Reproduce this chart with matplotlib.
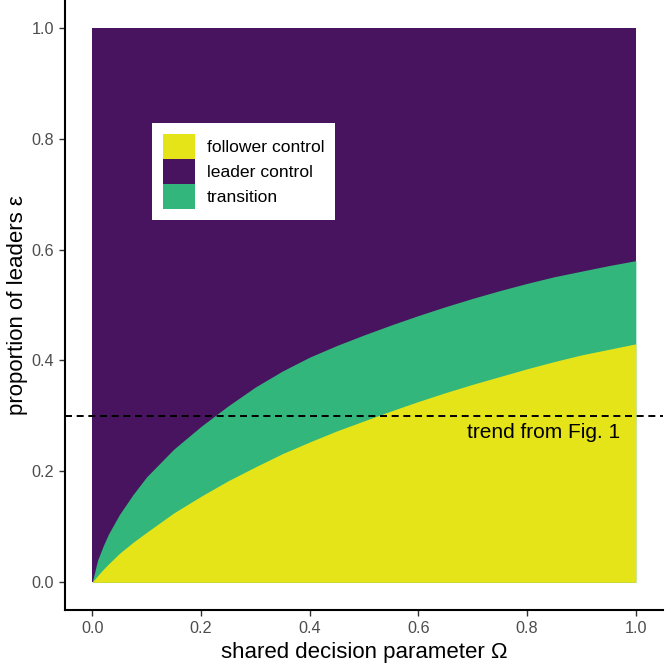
import matplotlib
matplotlib.use("Agg")
import matplotlib.pyplot as plt
import matplotlib.patches as mpatches

plt.rcParams['font.family'] = ['Liberation Sans', 'DejaVu Sans']

# boundary curves
omega = [0.0, 0.01, 0.02, 0.03, 0.05, 0.075, 0.1, 0.15, 0.2, 0.25, 0.3, 0.35, 0.4, 0.45,
         0.5, 0.55, 0.6, 0.65, 0.7, 0.75, 0.8, 0.85, 0.9, 0.95, 1.0]
upper_eps = [0.0, 0.04, 0.065, 0.087, 0.122, 0.158, 0.19, 0.24, 0.281, 0.318, 0.352, 0.381,
             0.406, 0.427, 0.446, 0.464, 0.481, 0.497, 0.512, 0.526, 0.539, 0.551, 0.561,
             0.571, 0.58]
lower_eps = [0.0, 0.012, 0.023, 0.033, 0.052, 0.072, 0.09, 0.125, 0.155, 0.183, 0.208, 0.232,
             0.253, 0.273, 0.291, 0.309, 0.326, 0.342, 0.357, 0.371, 0.385, 0.398, 0.41,
             0.42, 0.43]
trend_eps = 0.3
x_ticks = [0.0, 0.2, 0.4, 0.6, 0.8, 1.0]
y_ticks = [0.0, 0.2, 0.4, 0.6, 0.8, 1.0]
labels = ["follower control", "leader control", "transition"]

c_yellow = "#E5E419"
c_purple = "#48135F"
c_green = "#33B67C"

fig = plt.figure(figsize=(6.66, 6.65), dpi=100)
ax = fig.add_axes([65/666, 55/665, 598/666, 610/665])

ax.fill_between([0.0, 1.0], [0.0, 0.0], [1.0, 1.0], color=c_purple, linewidth=0)
ax.fill_between(omega, [0]*len(omega), upper_eps, color=c_green, linewidth=0)
ax.fill_between(omega, [0]*len(omega), lower_eps, color=c_yellow, linewidth=0)

ax.axhline(trend_eps, color="black", linewidth=1.4, dashes=(3.6, 2.4))
ax.text(0.972, 0.27, "trend from Fig. 1", ha="right", va="center", fontsize=15, color="black")

ax.set_xlim(-0.05, 1.05)
ax.set_ylim(-0.05, 1.05)
ax.set_xticks(x_ticks)
ax.set_yticks(y_ticks)
ax.set_xticklabels([f"{v:.1f}" for v in x_ticks])
ax.set_yticklabels([f"{v:.1f}" for v in y_ticks])
ax.tick_params(axis="both", colors="#333333", labelcolor="#4D4D4D", labelsize=11.7,
               length=4, width=1.0, direction="out", pad=4)
for s in ["top", "right"]:
    ax.spines[s].set_visible(False)
for s in ["left", "bottom"]:
    ax.spines[s].set_linewidth(1.5)
    ax.spines[s].set_color("black")

ax.set_xlabel("shared decision parameter \u03A9", fontsize=16, labelpad=4)
ax.set_ylabel("proportion of leaders \u03B5", fontsize=16, labelpad=2)

handles = [mpatches.Patch(facecolor=c, edgecolor=c, linewidth=0) for c in (c_yellow, c_purple, c_green)]
leg = ax.legend(handles, labels, loc="upper left", bbox_to_anchor=(0.1455, 0.798),
                borderaxespad=0, fontsize=12.6, frameon=True, fancybox=False,
                framealpha=1, facecolor="white", edgecolor="white",
                handlelength=1.83, handleheight=1.83, labelspacing=0,
                handletextpad=0.67, borderpad=0.62)
leg.get_frame().set_linewidth(0)

fig.savefig("out.png", dpi=100)
